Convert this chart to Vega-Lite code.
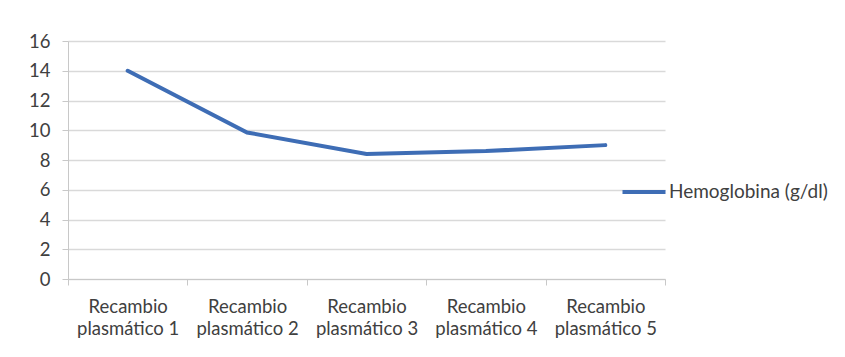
{
  "$schema": "https://vega.github.io/schema/vega-lite/v6.json",
  "autosize": "none",
  "width": 597,
  "height": 238,
  "padding": {"left": 68, "top": 41, "right": 180, "bottom": 78},
  "background": "white",
  "data": {
    "values": [
      {"recambio": "Recambio plasmático 1", "serie": "Hemoglobina (g/dl)", "valor": 14.0},
      {"recambio": "Recambio plasmático 2", "serie": "Hemoglobina (g/dl)", "valor": 9.85},
      {"recambio": "Recambio plasmático 3", "serie": "Hemoglobina (g/dl)", "valor": 8.4},
      {"recambio": "Recambio plasmático 4", "serie": "Hemoglobina (g/dl)", "valor": 8.6},
      {"recambio": "Recambio plasmático 5", "serie": "Hemoglobina (g/dl)", "valor": 9.0}
    ]
  },
  "config": {
    "view": {"stroke": null},
    "font": "Lato"
  },
  "mark": {"type": "line", "strokeWidth": 4, "strokeCap": "round"},
  "encoding": {
    "x": {
      "field": "recambio",
      "type": "nominal",
      "sort": null,
      "scale": {"type": "band", "paddingInner": 0, "paddingOuter": 0},
      "axis": {
        "title": null,
        "labelAngle": 0,
        "labelExpr": "[substring(datum.label, 0, 8), substring(datum.label, 9)]",
        "labelFontSize": 18.5,
        "labelColor": "#404040",
        "labelPadding": 12,
        "labelLineHeight": 22,
        "tickBand": "extent",
        "tickSize": 6,
        "tickColor": "#c8c8c8",
        "domainColor": "#c8c8c8",
        "grid": false
      }
    },
    "y": {
      "field": "valor",
      "type": "quantitative",
      "scale": {"domain": [0, 16], "nice": false},
      "axis": {
        "title": null,
        "values": [0, 2, 4, 6, 8, 10, 12, 14, 16],
        "labelFontSize": 18.5,
        "labelColor": "#404040",
        "labelPadding": 12,
        "tickSize": 6,
        "tickColor": "#c8c8c8",
        "domainColor": "#c8c8c8",
        "gridColor": "#d9d9d9",
        "gridWidth": 1.5
      }
    },
    "color": {
      "field": "serie",
      "type": "nominal",
      "scale": {"range": ["#3E6DB5"]},
      "legend": {
        "title": null,
        "orient": "none",
        "legendX": 552,
        "legendY": 127,
        "padding": 0,
        "symbolType": "stroke",
        "symbolSize": 1850,
        "symbolStrokeWidth": 4,
        "labelFontSize": 19,
        "labelColor": "#404040",
        "labelOffset": 1
      }
    }
  }
}
